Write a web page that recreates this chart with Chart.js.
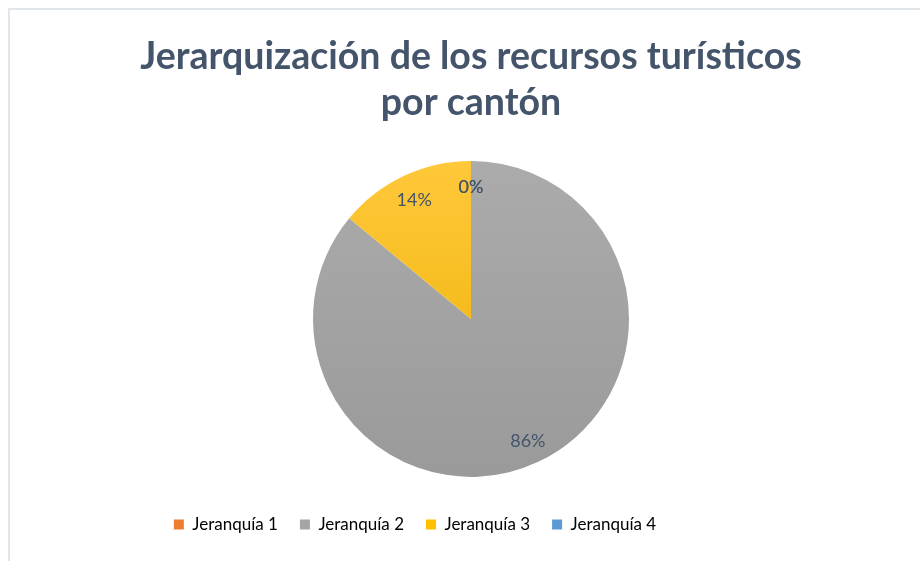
<!DOCTYPE html>
<html>
<head>
<meta charset="utf-8">
<script src="https://cdn.jsdelivr.net/npm/chart.js@4"></script>
<style>
    html, body { margin: 0; padding: 0; background: #fff; overflow: hidden; }
    .marco {
        position: absolute; left: 8px; top: 8px; width: 940px; height: 580px;
        border-left: 2px solid #e1e5ec; border-top: 2px solid #e1e5ec;
    }
    .caja { position: absolute; left: 0; top: 0; width: 920px; height: 561px; }
</style>
</head>
<body>
<div class="marco"></div>
<div class="caja"><canvas id="pieChart" width="920" height="561"></canvas></div>
<script>
// ============================
// DATOS
// ============================

const categorias = ['Jeranquía 1', 'Jeranquía 2', 'Jeranquía 3', 'Jeranquía 4'];
const porcentajes = [0, 86, 14, 0];
const colores = ['#ed7d31', '#a5a5a5', '#ffc000', '#5b9bd5'];

// Tonos para el degradado (arriba claro, abajo oscuro)
const coloresClaros = ['#f08a45', '#ababab', '#ffc83a', '#6aa5da'];
const coloresOscuros = ['#e07028', '#9a9a9a', '#ecb000', '#4d8dc8'];

const colorTexto = '#44546a';
const fuente = 'Lato, "Open Sans", sans-serif';
const radioPie = 158;

// Relleno con degradado vertical sobre el círculo
function rellenoDegradado(context) {
    const chart = context.chart;
    const i = context.dataIndex;
    const area = chart.chartArea;
    if (!area || !isFinite(area.top) || !isFinite(area.bottom)) return colores[i];
    const cy = (area.top + area.bottom) / 2;
    const g = chart.ctx.createLinearGradient(0, cy - radioPie, 0, cy + radioPie);
    g.addColorStop(0, coloresClaros[i]);
    g.addColorStop(1, coloresOscuros[i]);
    return g;
}

// Etiquetas de porcentaje dentro de las porciones
const etiquetasPlugin = {
    id: 'etiquetas',
    afterDatasetsDraw(chart) {
        const ctx = chart.ctx;
        const meta = chart.getDatasetMeta(0);
        const total = porcentajes.reduce((a, b) => a + b, 0);
        ctx.save();
        ctx.font = '18px ' + fuente;
        ctx.fillStyle = colorTexto;
        ctx.textAlign = 'center';
        ctx.textBaseline = 'middle';
        meta.data.forEach((arco, i) => {
            const medio = (arco.startAngle + arco.endAngle) / 2;
            const r = arco.outerRadius * 0.845;
            const x = arco.x + Math.cos(medio) * r;
            const y = arco.y + Math.sin(medio) * r + 2;
            const pct = Math.round(porcentajes[i] / total * 100);
            ctx.fillText(pct + '%', x, y);
        });
        ctx.restore();
    }
};

// La leyenda de Excel queda corrida a la izquierda respecto del círculo
const leyendaPlugin = {
    id: 'leyendaCorrida',
    afterLayout(chart) {
        chart.legend.left -= 56;
        chart.legend.right -= 56;
    }
};

const ctx = document.getElementById('pieChart').getContext('2d');

const pieChart = new Chart(ctx, {
    type: 'pie',
    data: {
        labels: categorias,
        datasets: [{
            data: porcentajes,
            backgroundColor: rellenoDegradado,
            borderWidth: 0,
            radius: radioPie
        }]
    },
    options: {
        responsive: false,
        animation: false,
        layout: {
            padding: { left: 22, right: 0, top: 0, bottom: 18 }
        },
        plugins: {
            title: {
                display: true,
                text: ['Jerarquización de los recursos turísticos', 'por cantón'],
                color: colorTexto,
                font: { family: fuente, size: 37.5, weight: 'bold', lineHeight: 1.25 },
                padding: { top: 33, bottom: 17 }
            },
            legend: {
                position: 'bottom',
                labels: {
                    color: colorTexto,
                    font: { family: fuente, size: 17 },
                    boxWidth: 10,
                    boxHeight: 10,
                    padding: 22,
                    generateLabels: (chart) => categorias.map((c, i) => ({
                        text: c,
                        fillStyle: colores[i],
                        strokeStyle: colores[i],
                        lineWidth: 0,
                        hidden: false,
                        index: i
                    }))
                }
            },
            tooltip: { enabled: false }
        }
    },
    plugins: [etiquetasPlugin, leyendaPlugin]
});
</script>
</body>
</html>
